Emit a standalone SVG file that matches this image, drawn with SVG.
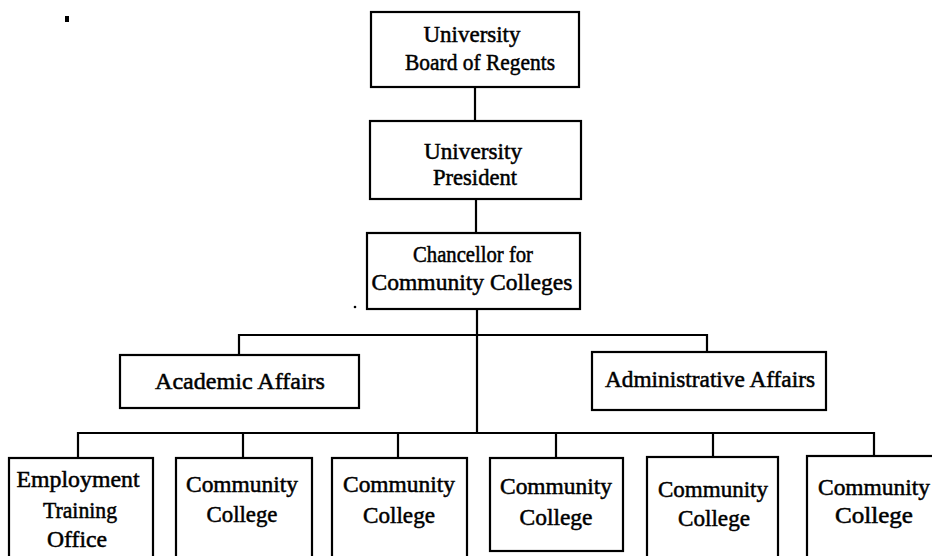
<svg xmlns="http://www.w3.org/2000/svg" width="932" height="556" viewBox="0 0 932 556">
<style>
.box{fill:#fff;stroke:#000;stroke-width:2.2}
.ln{fill:none;stroke:#000;stroke-width:2.2}
text{font-family:"Liberation Serif","Times New Roman",serif;font-size:23px;fill:#000;stroke:#000;stroke-width:0.5;text-anchor:middle}
</style>
<rect width="932" height="556" fill="#fff"/>
<g id="specks">
<rect x="65" y="16" width="4" height="6" fill="#000"/>
<circle cx="355" cy="307" r="1.3" fill="#000"/>
</g>
<g id="connectors">
<line class="ln" x1="475" y1="87" x2="475" y2="121"/>
<line class="ln" x1="476" y1="199" x2="476" y2="233"/>
<line class="ln" x1="477" y1="309" x2="477" y2="433"/>
<polyline class="ln" points="239,355 239,335 707,335 707,352"/>
<polyline class="ln" points="78,458 78,433 874,433 874,456"/>
<line class="ln" x1="243" y1="433" x2="243" y2="458"/>
<line class="ln" x1="398" y1="433" x2="398" y2="458"/>
<line class="ln" x1="556" y1="433" x2="556" y2="458"/>
<line class="ln" x1="713" y1="433" x2="713" y2="457"/>
</g>
<g id="board">
<rect class="box" x="371" y="12" width="208" height="75"/>
<text x="472" y="42" textLength="97" lengthAdjust="spacingAndGlyphs">University</text>
<text x="480" y="70" textLength="150" lengthAdjust="spacingAndGlyphs">Board of Regents</text>
</g>
<g id="president">
<rect class="box" x="370" y="121" width="211" height="78"/>
<text x="473" y="159" textLength="98" lengthAdjust="spacingAndGlyphs">University</text>
<text x="475" y="185" textLength="84" lengthAdjust="spacingAndGlyphs">President</text>
</g>
<g id="chancellor">
<rect class="box" x="367" y="233" width="213" height="76"/>
<text x="473" y="262" textLength="120" lengthAdjust="spacingAndGlyphs">Chancellor for</text>
<text x="472" y="290" textLength="201" lengthAdjust="spacingAndGlyphs">Community Colleges</text>
</g>
<g id="academic">
<rect class="box" x="120" y="355" width="239" height="53"/>
<text x="240" y="389" textLength="170" lengthAdjust="spacingAndGlyphs">Academic Affairs</text>
</g>
<g id="administrative">
<rect class="box" x="592" y="352" width="234" height="58"/>
<text x="710" y="387" textLength="210" lengthAdjust="spacingAndGlyphs">Administrative Affairs</text>
</g>
<g id="employment">
<rect class="box" x="9" y="458" width="144" height="110"/>
<text x="78" y="487" textLength="123" lengthAdjust="spacingAndGlyphs">Employment</text>
<text x="80" y="518" textLength="74" lengthAdjust="spacingAndGlyphs">Training</text>
<text x="77" y="547" textLength="60" lengthAdjust="spacingAndGlyphs">Office</text>
</g>
<g id="cc1">
<rect class="box" x="176" y="458" width="136" height="110"/>
<text x="242" y="492" textLength="112" lengthAdjust="spacingAndGlyphs">Community</text>
<text x="242" y="522" textLength="71" lengthAdjust="spacingAndGlyphs">College</text>
</g>
<g id="cc2">
<rect class="box" x="332" y="458" width="135" height="110"/>
<text x="399" y="492" textLength="112" lengthAdjust="spacingAndGlyphs">Community</text>
<text x="399" y="523" textLength="72" lengthAdjust="spacingAndGlyphs">College</text>
</g>
<g id="cc3">
<rect class="box" x="490" y="458" width="133" height="93"/>
<text x="556" y="494" textLength="112" lengthAdjust="spacingAndGlyphs">Community</text>
<text x="556" y="525" textLength="73" lengthAdjust="spacingAndGlyphs">College</text>
</g>
<g id="cc4">
<rect class="box" x="647" y="457" width="131" height="111"/>
<text x="713" y="497" textLength="110" lengthAdjust="spacingAndGlyphs">Community</text>
<text x="714" y="526" textLength="72" lengthAdjust="spacingAndGlyphs">College</text>
</g>
<g id="cc5">
<rect class="box" x="807" y="456" width="140" height="112"/>
<text x="874" y="495" textLength="112" lengthAdjust="spacingAndGlyphs">Community</text>
<text x="874" y="523" textLength="78" lengthAdjust="spacingAndGlyphs">College</text>
</g>
</svg>
